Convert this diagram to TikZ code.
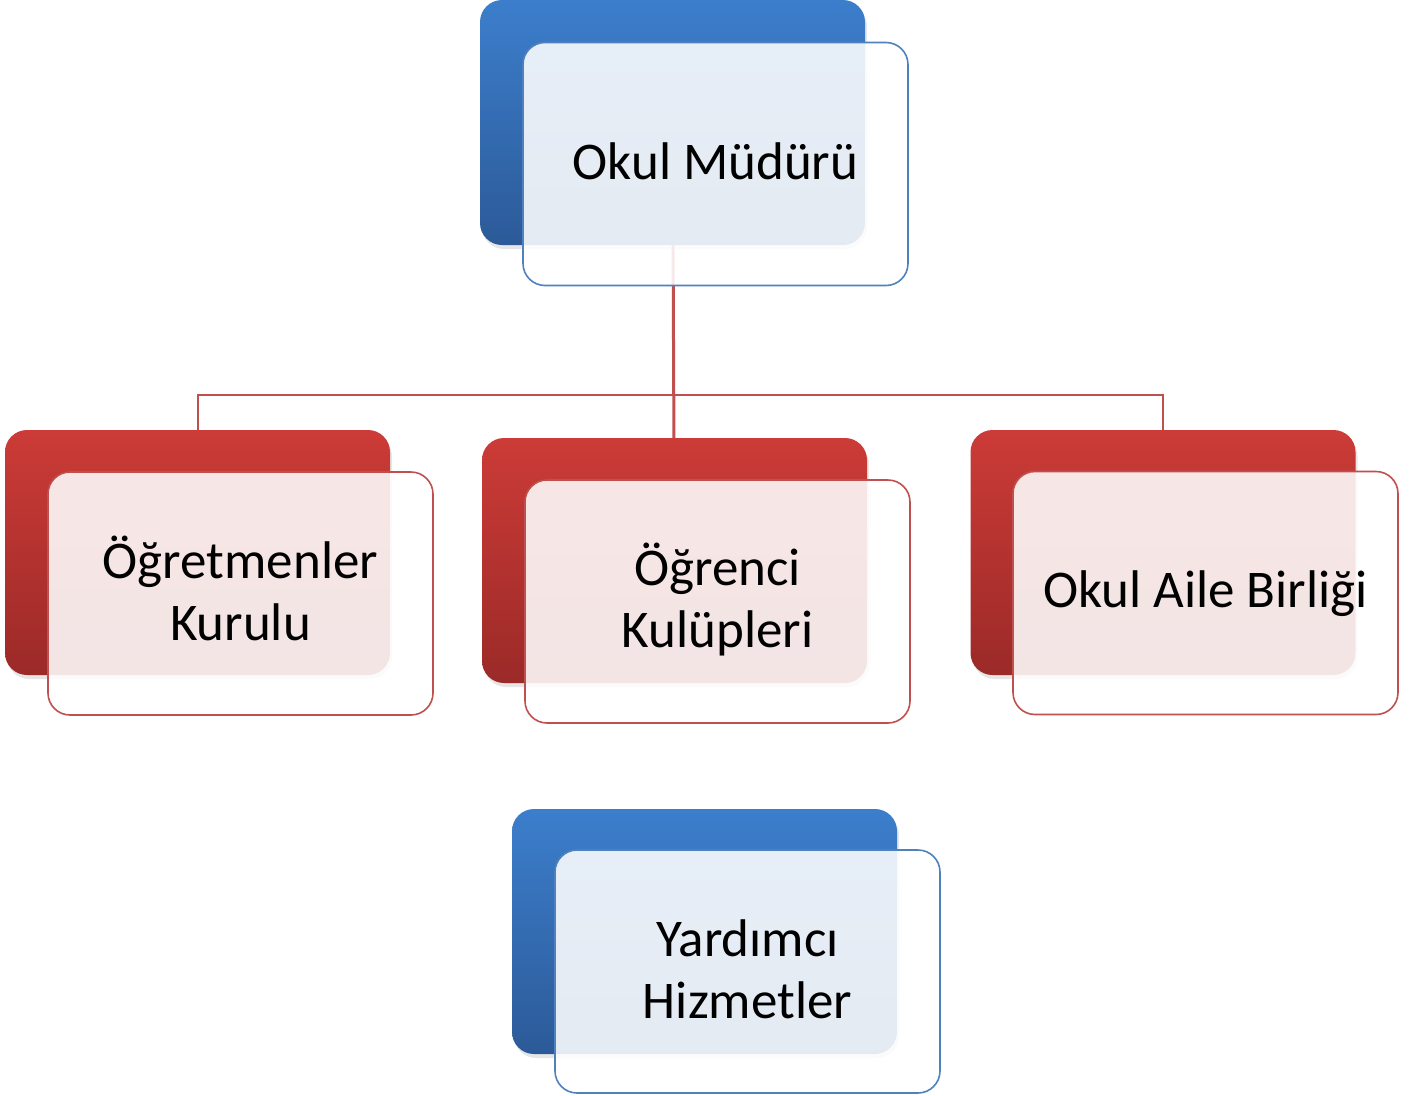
\documentclass[tikz,border=0pt]{standalone}
\usepackage{fontspec}
\setmainfont{Carlito}
\usetikzlibrary{shadows}
\definecolor{bluetop}{HTML}{3C7ECC}
\definecolor{bluebot}{HTML}{2C5A98}
\definecolor{redtop}{HTML}{CC3B37}
\definecolor{redbot}{HTML}{9B2A28}
\definecolor{blueline}{HTML}{4F81BD}
\definecolor{redline}{HTML}{C0504D}
\definecolor{connred}{HTML}{C0504D}
\tikzset{
  backbox/.style={rectangle, rounded corners=22pt, minimum width=385pt, minimum height=245pt, inner sep=0pt,
    drop shadow={opacity=0.2, shadow xshift=2pt, shadow yshift=-4pt}},
  blueback/.style={backbox, top color=bluetop, bottom color=bluebot},
  redback/.style={backbox, top color=redtop, bottom color=redbot},
  frontbox/.style={rectangle, rounded corners=22pt, minimum width=385pt, minimum height=243pt, inner sep=0pt,
    fill=white, fill opacity=0.88, line width=1.6pt},
  bluefront/.style={frontbox, draw=blueline},
  redfront/.style={frontbox, draw=redline},
  boxtext/.style={inner sep=0pt, align=center, font=\fontsize{53}{62}\selectfont},
  conn/.style={draw=connred, line width=2pt},
  connthick/.style={draw=connred, line width=3pt}
}
\begin{document}
\begin{tikzpicture}[x=1pt, y=-1pt]
\useasboundingbox (0,0) rectangle (1421,1095);
% anchors for layout
\coordinate (topc) at (672.5,122.5);
\coordinate (leftc) at (197.5,552.5);
\coordinate (midc) at (674.5,560.5);
\coordinate (rightc) at (1163,552.5);
\coordinate (botc) at (704.5,931.5);
\coordinate (bus) at (674.5,395);
% connectors (behind boxes)
\draw[connthick] (topc) -- (midc);
\draw[conn] (leftc) |- (bus) -| (rightc);
% back boxes
\node[blueback] (topback) at (topc) {};
\node[redback] (leftback) at (leftc) {};
\node[redback] (midback) at (midc) {};
\node[redback] (rightback) at (rightc) {};
\node[blueback] (botback) at (botc) {};
% front boxes
\node[bluefront] (topfront) at (715.5,164) {};
\node[redfront] (leftfront) at (240.5,593.5) {};
\node[redfront] (midfront) at (717.5,601.5) {};
\node[redfront] (rightfront) at (1205.5,593) {};
\node[bluefront] (botfront) at (747.5,971.5) {};
% texts
\node[boxtext] (toptext) at ([yshift=3pt]topfront.center) {Okul Müdürü};
\node[boxtext] (lefttext) at ([yshift=5pt]leftfront.center) {Öğretmenler\\Kurulu};
\node[boxtext] (midtext) at ([yshift=2pt]midfront.center) {Öğrenci\\Kulüpleri};
\node[boxtext] (righttext) at ([yshift=-1pt]rightfront.center) {Okul Aile Birliği};
\node[boxtext] (bottext) at ([yshift=2pt]botfront.center) {Yardımcı\\Hizmetler};
\end{tikzpicture}
\end{document}
